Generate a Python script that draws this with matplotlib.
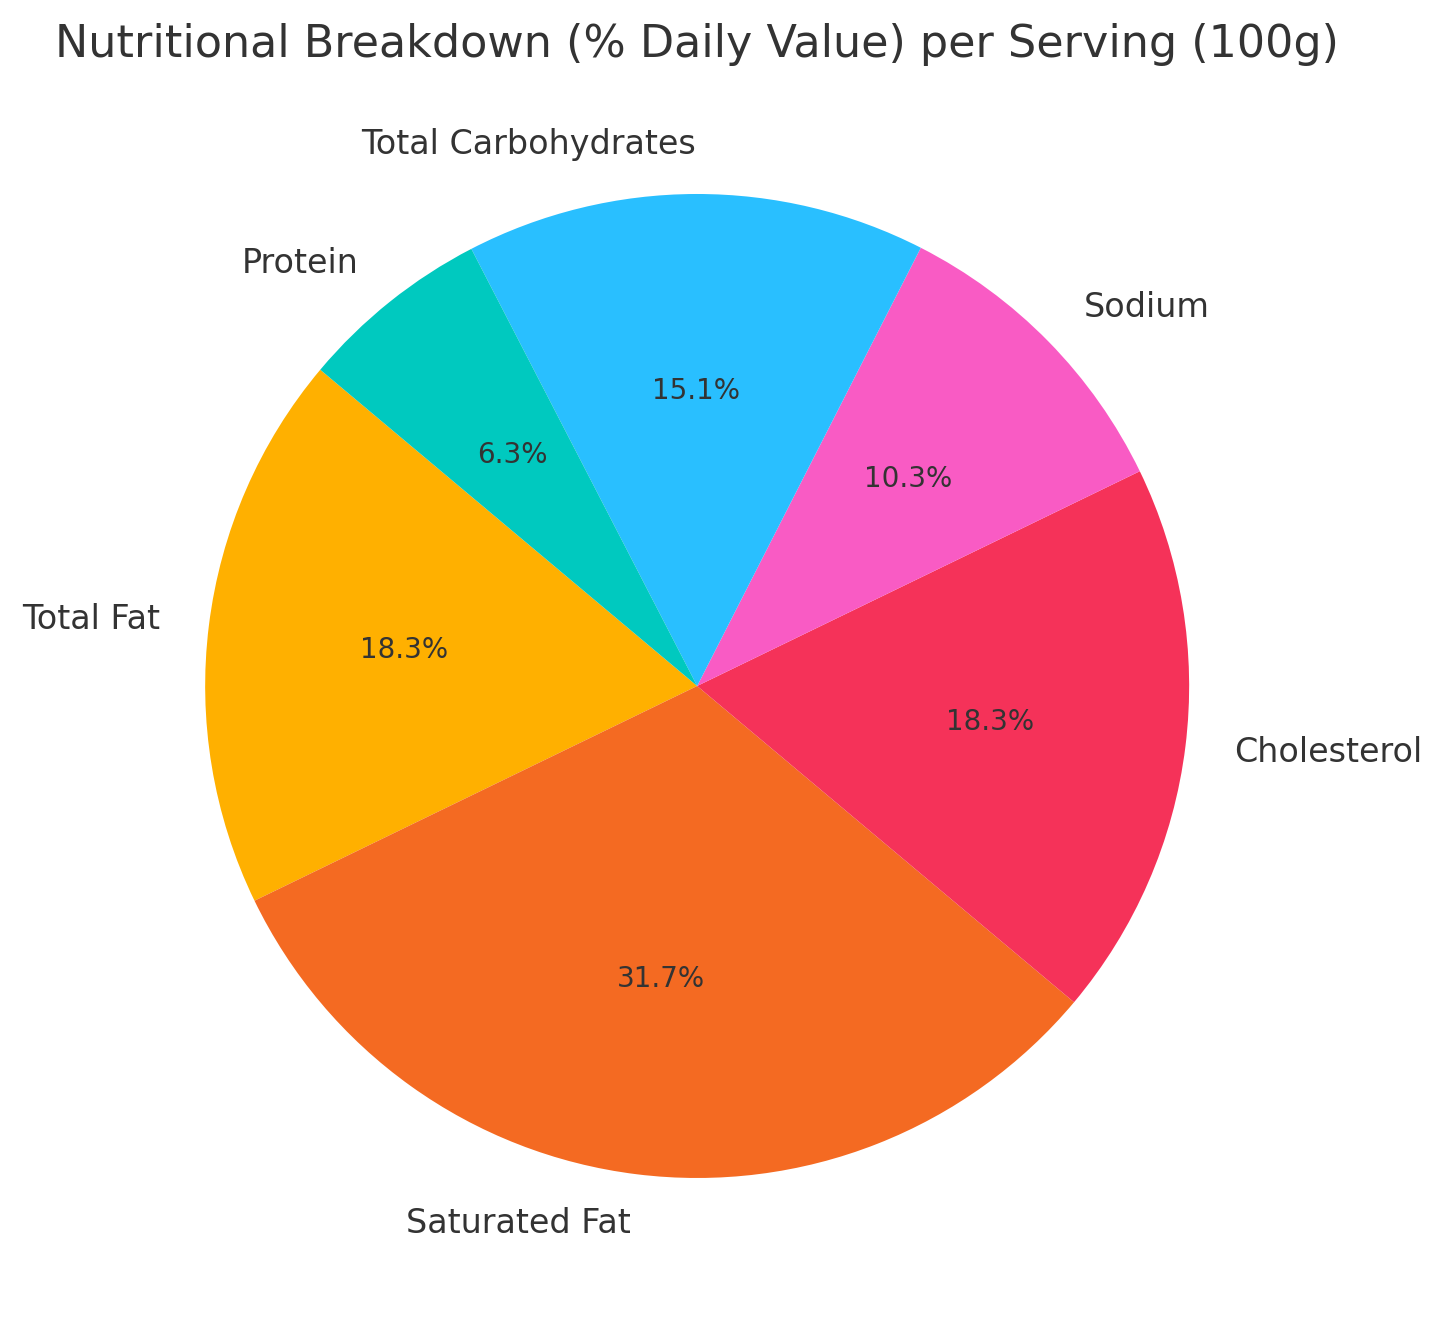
import matplotlib.pyplot as plt

# --- data ---
nutrients = ['Total Fat', 'Saturated Fat', 'Cholesterol', 'Sodium',
             'Total Carbohydrates', 'Protein']
daily_value = [18.3, 31.7, 18.3, 10.3, 15.1, 6.3]
colors = ['#FFB000', '#F46A22', '#F53259', '#F95BC4', '#29BFFF', '#00C9BF']

text_color = '#333333'

fig = plt.figure(figsize=(7.205, 6.61), dpi=200)
ax = fig.add_axes([0.057, 0.0159, 0.8536, 0.9304])

wedges, texts, autotexts = ax.pie(
    daily_value, labels=nutrients, colors=colors, autopct='%1.1f%%',
    startangle=140, textprops={'color': text_color, 'fontsize': 12})
for t in autotexts:
    t.set_fontsize(10)
ax.set_aspect('equal')

ax.set_title('Nutritional Breakdown (% Daily Value) per Serving (100g)',
             fontsize=16, color=text_color, pad=5)

fig.savefig('out.png', dpi=200)
